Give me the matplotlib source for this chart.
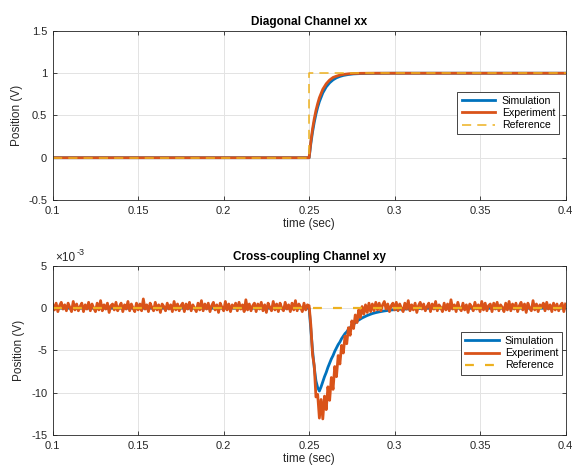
"""
Step response plots: diagonal channel and cross-coupling channel.
"""

import numpy as np
import matplotlib
matplotlib.use("Agg")
import matplotlib.pyplot as plt

plt.rcParams["font.family"] = ["Liberation Sans", "DejaVu Sans"]
plt.rcParams["axes.unicode_minus"] = False

BLUE = "#0072BD"
ORANGE = "#D95319"
YELLOW = "#EDB120"

# ── Diagonal channel xx (V) ──────────────────────────────────────────
t_xx = [0.1, 0.25, 0.251, 0.252, 0.253, 0.254, 0.255, 0.256, 0.258, 0.26,
        0.262, 0.264, 0.266, 0.268, 0.27, 0.273, 0.276, 0.28, 0.285, 0.29,
        0.3, 0.4]
sim_xx = [0, 0, 0.166, 0.305, 0.42, 0.517, 0.597, 0.664, 0.767, 0.838,
          0.887, 0.922, 0.946, 0.962, 0.974, 0.985, 0.992, 0.996, 0.998,
          0.999, 1.0, 1.0]
exp_xx = [0, 0, 0.19, 0.34, 0.46, 0.56, 0.64, 0.71, 0.81, 0.875,
          0.92, 0.95, 0.965, 0.978, 0.986, 0.993, 0.997, 0.999, 1.0,
          1.0, 1.0, 1.0]
t_ref = [0.1, 0.25, 0.25, 0.4]
ref_xx = [0, 0, 1, 1]

# ── Cross-coupling channel xy (units of 1e-3 V), sampled every 1 ms ─
t_xy = np.linspace(0.1, 0.4, 301)
exp_xy = [
    # 0.100 - 0.249
    0.5, -0.2, 0.6, -0.4, 0.3, 0.7, -0.1, 0.4, -0.3, 0.6,
    0.1, -0.4, 0.8, -0.2, 0.5, -0.3, 0.2, 0.6, -0.4, 0.4,
    -0.1, 0.7, -0.3, 0.5, 0.0, -0.4, 0.6, -0.2, 0.9, -0.3,
    0.4, -0.1, 0.6, -0.5, 0.3, 0.5, -0.2, 0.7, -0.3, 0.2,
    0.6, -0.4, 0.4, -0.1, 0.8, -0.3, 0.5, 0.0, -0.4, 0.6,
    -0.2, 0.5, -0.3, 1.1, -0.1, 0.4, -0.4, 0.6, 0.1, -0.3,
    0.7, -0.2, 0.4, -0.5, 0.5, 0.2, -0.3, 0.6, -0.1, 0.4,
    -0.4, 0.8, -0.2, 0.5, -0.3, 0.3, 0.6, -0.4, 0.5, -0.1,
    0.7, -0.3, 0.4, 0.0, -0.4, 0.6, -0.2, 0.9, -0.3, 0.5,
    -0.1, 0.6, -0.4, 0.3, 0.7, -0.2, 0.4, -0.5, 0.6, 0.1,
    -0.3, 0.8, -0.2, 0.5, -0.4, 0.4, 0.0, 0.6, -0.3, 0.7,
    -0.1, 0.4, -0.4, 1.0, -0.2, 0.5, -0.3, 0.3, 0.6, -0.4,
    0.5, -0.1, 0.7, -0.3, 0.4, -0.5, 0.6, 0.1, -0.3, 0.8,
    -0.2, 0.5, -0.4, 0.6, 0.0, -0.3, 0.7, -0.1, 0.4, -0.4,
    0.6, -0.2, 0.9, -0.3, 0.5, 0.1, -0.4, 0.6, -0.2, 0.4,
    # 0.250 - 0.289 (dip)
    0.3, -2.0, -5.5, -6.8, -10.5, -10.2, -13.0, -10.8, -13.1, -10.4,
    -12.0, -9.3, -10.9, -8.2, -9.6, -6.9, -8.1, -5.6, -6.6, -4.4,
    -5.3, -3.3, -4.2, -2.3, -3.2, -1.5, -2.4, -0.8, -1.7, -0.2,
    -1.1, 0.2, -0.7, 0.4, -0.5, 0.6, -0.4, 0.5, -0.3, 0.7,
    # 0.290 - 0.400
    -0.2, 0.6, -0.3, 0.4, 0.8, -0.1, 0.5, -0.4, 0.3, 0.6,
    -0.2, 0.7, -0.3, 0.5, 0.0, -0.4, 0.6, -0.1, 0.9, -0.3,
    0.4, -0.2, 0.6, -0.5, 0.3, 0.7, -0.1, 0.5, -0.3, 0.2,
    0.6, -0.4, 0.5, -0.1, 0.8, -0.3, 0.4, 0.1, -0.4, 0.6,
    -0.2, 0.5, -0.3, 1.0, -0.1, 0.4, -0.4, 0.7, 0.0, -0.3,
    0.6, -0.2, 0.4, -0.5, 0.5, 0.2, -0.3, 0.7, -0.1, 0.4,
    -0.4, 0.8, -0.2, 0.6, -0.3, 0.3, 0.5, -0.4, 0.6, -0.1,
    0.7, -0.3, 0.4, 0.1, -0.4, 0.6, -0.2, 0.8, -0.3, 0.5,
    -0.1, 0.6, -0.4, 0.3, 0.7, -0.2, 0.5, -0.5, 0.6, 0.0,
    -0.3, 0.9, -0.2, 0.5, -0.4, 0.4, 0.1, 0.6, -0.3, 0.7,
    -0.1, 0.4, -0.4, 0.6, -0.2, 0.5, -0.3, 0.3, 0.6, -0.4,
    0.5,
]
sim_xy = ([0.0] * 150 +
          [0.0, -2.5, -5.0, -7.0, -8.6, -9.4, -9.8, -9.3, -8.7, -8.1,
           -7.6, -7.0, -6.5, -6.0, -5.6, -5.1, -4.7, -4.3, -4.0, -3.6,
           -3.3, -3.0, -2.8, -2.5, -2.3, -2.1, -1.9, -1.7, -1.55, -1.4,
           -1.27, -1.15, -1.05, -0.95, -0.86, -0.78, -0.7, -0.63, -0.57, -0.52,
           -0.47, -0.43, -0.39, -0.35, -0.32, -0.29, -0.26, -0.24, -0.21, -0.19,
           -0.17, -0.15, -0.14, -0.12, -0.11, -0.1, -0.09, -0.08, -0.07, -0.06,
           -0.05, -0.05, -0.04, -0.04, -0.03, -0.03, -0.02, -0.02, -0.01, -0.01] +
          [0.0] * 81)
ref_xy = [0, 0, 0, 0]

x_ticks = [0.1, 0.15, 0.2, 0.25, 0.3, 0.35, 0.4]
x_ticklabels = ["0.1", "0.15", "0.2", "0.25", "0.3", "0.35", "0.4"]


def style_axes(ax):
    ax.set_xlim(0.1, 0.4)
    ax.set_xticks(x_ticks)
    ax.set_xticklabels(x_ticklabels)
    ax.grid(True, color="#e3e3e3", linewidth=0.7)
    ax.set_axisbelow(True)
    ax.tick_params(direction="in", length=3, width=0.6, top=True, right=True,
                   labelsize=8, colors="#262626", pad=4)
    for s in ax.spines.values():
        s.set_linewidth(0.6)
        s.set_color("#262626")
    ax.set_xlabel("time (sec)", fontsize=8.5, color="#262626", labelpad=2)
    ax.set_ylabel("Position (V)", fontsize=8.5, color="#262626", labelpad=4)


def add_legend(ax, anchor):
    leg = ax.legend(loc="upper right", bbox_to_anchor=anchor, fontsize=7.6,
                    fancybox=False, edgecolor="#262626", framealpha=1,
                    handlelength=3.2, labelspacing=0.2, borderpad=0.4,
                    handletextpad=0.6, borderaxespad=0)
    leg.get_frame().set_linewidth(0.6)


fig = plt.figure(figsize=(5.75, 4.7), dpi=100)
ax1 = fig.add_axes([0.0917, 0.5745, 0.8918, 0.3596])
ax2 = fig.add_axes([0.0917, 0.0745, 0.8918, 0.3596])

# top panel
ax1.plot(t_xx, sim_xx, color=BLUE, lw=2.0, label="Simulation")
ax1.plot(t_xx, exp_xx, color=ORANGE, lw=2.0, label="Experiment")
ax1.plot(t_ref, ref_xx, color=YELLOW, lw=1.1, ls=(0, (6, 4)), label="Reference")
ax1.set_ylim(-0.5, 1.5)
ax1.set_yticks([-0.5, 0, 0.5, 1, 1.5])
ax1.set_yticklabels(["-0.5", "0", "0.5", "1", "1.5"])
ax1.set_title("Diagonal Channel xx", fontsize=8.5, fontweight="bold", pad=4)
style_axes(ax1)
add_legend(ax1, (0.988, 0.64))

# bottom panel (axis in units of 1e-3)
ax2.plot(t_xy, sim_xy, color=BLUE, lw=2.0, label="Simulation")
ax2.plot(t_xy, exp_xy, color=ORANGE, lw=2.0, label="Experiment")
ax2.plot(t_ref, ref_xy, color=YELLOW, lw=1.6, ls=(0, (4, 5)), label="Reference")
ax2.set_ylim(-15, 5)
ax2.set_yticks([-15, -10, -5, 0, 5])
ax2.set_title("Cross-coupling Channel xy", fontsize=8.5, fontweight="bold", pad=4)
style_axes(ax2)
add_legend(ax2, (0.994, 0.61))

# MATLAB-style exponent label
ax2.text(0.004, 1.012, "×10", transform=ax2.transAxes, fontsize=8.5,
         color="#262626", ha="left", va="bottom")
ax2.annotate("-3", xy=(0.004, 1.012), xycoords="axes fraction",
             xytext=(15.5, 5), textcoords="offset points", fontsize=6.5,
             color="#262626", ha="left", va="bottom")

fig.savefig("out.png", dpi=100)
